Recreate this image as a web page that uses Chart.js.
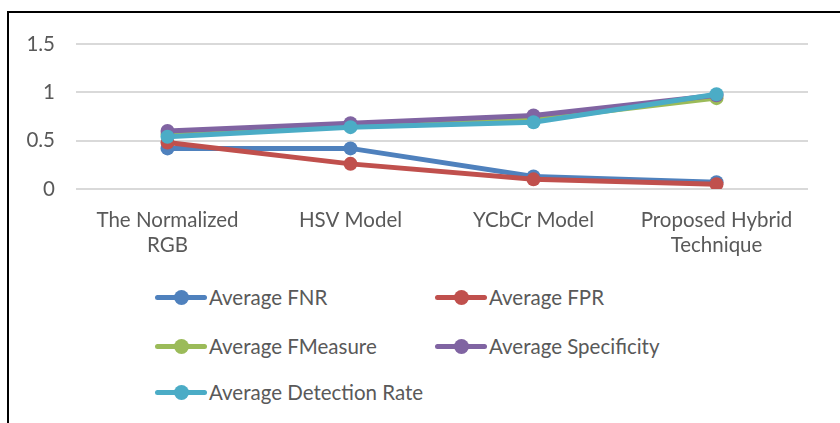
<!DOCTYPE html>
<html>
<head>
<meta charset="utf-8">
<script src="https://cdn.jsdelivr.net/npm/chart.js@4.4.0/dist/chart.umd.min.js"></script>
<style>
    body { margin: 0; background: #fff; }
    #wrap { position: relative; width: 840px; height: 423px; overflow: hidden; }
    #frame { position: absolute; left: 7px; top: 11px; width: 900px; height: 500px; border-left: 2px solid #000; border-top: 2px solid #000; }
    #chartBox { position: absolute; left: 0; top: 0; width: 840px; height: 280px; }
    .leg { position: absolute; font-family: Lato, sans-serif; font-size: 20.5px; color: #595959; white-space: nowrap; line-height: 24px; }
    .leg .mk { position: absolute; left: 0; top: 10px; width: 52px; height: 5px; border-radius: 3px; }
    .leg .mk i { position: absolute; left: 19px; top: -5px; width: 15px; height: 15px; border-radius: 50%; }
    .leg span.t { position: absolute; left: 54px; top: 0; }
</style>
</head>
<body>
<div id="wrap">
    <div id="frame"></div>
    <div id="chartBox"><canvas id="chart"></canvas></div>
    <div id="legend"></div>
</div>
<script>
let categories = [["The Normalized", "RGB"], "HSV Model", "YCbCr Model", ["Proposed Hybrid", "Technique"]];
let yTicks = [0, 0.5, 1, 1.5];

let seriesNames = ["Average FNR", "Average FPR", "Average FMeasure", "Average Specificity", "Average Detection Rate"];
let seriesColors = ["#4f81bd", "#c0504d", "#9bbb59", "#8064a2", "#4bacc6"];

let avgFNR = [0.42, 0.42, 0.13, 0.07];
let avgFPR = [0.48, 0.26, 0.10, 0.05];
let avgFMeasure = [0.57, 0.66, 0.72, 0.94];
let avgSpecificity = [0.60, 0.68, 0.76, 0.97];
let avgDetectionRate = [0.54, 0.64, 0.69, 0.98];

let seriesValues = [avgFNR, avgFPR, avgFMeasure, avgSpecificity, avgDetectionRate];

let datasets = seriesNames.map(function(name, i) {
    return {
        label: name,
        data: seriesValues[i],
        borderColor: seriesColors[i],
        backgroundColor: seriesColors[i],
        borderWidth: 5,
        pointRadius: 7,
        pointHoverRadius: 7,
        pointBorderWidth: 0,
        tension: 0,
        order: seriesNames.length - i
    };
});

new Chart(document.getElementById("chart").getContext("2d"), {
    type: "line",
    data: { labels: categories, datasets: datasets },
    options: {
        responsive: true,
        maintainAspectRatio: false,
        animation: false,
        layout: { padding: { left: 0, right: 32, top: 44, bottom: 0 } },
        plugins: {
            legend: { display: false },
            tooltip: { enabled: false }
        },
        scales: {
            x: {
                offset: true,
                grid: { display: false },
                border: { display: false },
                ticks: {
                    color: "#595959",
                    font: { family: "Lato", size: 20.5, lineHeight: 1.22 },
                    padding: 11,
                    maxRotation: 0,
                    autoSkip: false
                },
                afterFit: function(s) { s.height = 91; }
            },
            y: {
                min: 0,
                max: 1.5,
                afterBuildTicks: function(s) { s.ticks = yTicks.map(function(v) { return { value: v }; }); },
                grid: { color: "#d9d9d9", lineWidth: 2, drawTicks: false },
                border: { display: false },
                ticks: {
                    color: "#595959",
                    font: { family: "Lato", size: 20.5 },
                    padding: 21,
                    callback: function(v) { return String(v); }
                },
                afterFit: function(s) { s.width = 76; }
            }
        }
    }
});

// legend, two columns like the original
let legPos = [[155, 285], [435, 285], [155, 334], [435, 334], [155, 380]];
let legendHTML = "";
seriesNames.forEach(function(name, i) {
    legendHTML += `
    <div class="leg" style="left:${legPos[i][0]}px; top:${legPos[i][1]}px;">
        <div class="mk" style="background:${seriesColors[i]}"><i style="background:${seriesColors[i]}"></i></div>
        <span class="t">${name}</span>
    </div>`;
});
document.getElementById("legend").innerHTML = legendHTML;
</script>
</body>
</html>
